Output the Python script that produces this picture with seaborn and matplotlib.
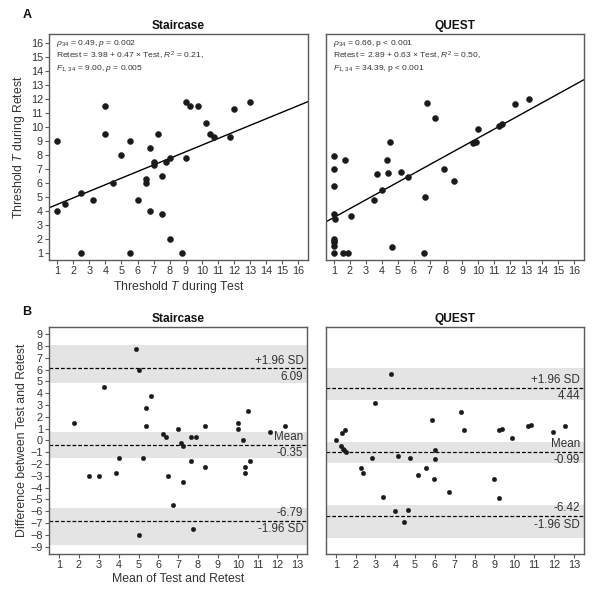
import numpy as np
import pandas as pd
import matplotlib
matplotlib.use("Agg")
import matplotlib.pyplot as plt
import seaborn as sns

# ---------------- data ----------------
stair_test = [1, 1, 1.5, 2.5, 2.5, 3.25, 4, 4, 4.5, 5, 5.5, 5.5, 6, 6.5, 6.5, 6.75, 6.75, 7,
              7, 7.25, 7.5, 7.5, 7.75, 8, 8, 8.75, 9, 9, 9.25, 9.75, 10.25, 10.5, 10.75,
              11.75, 12, 13]
stair_retest = [9, 4, 4.5, 5.25, 1, 4.75, 11.5, 9.5, 6, 8, 9, 1, 4.75, 6.25, 6, 8.5, 4, 7.5,
                7.25, 9.5, 6.5, 3.75, 7.5, 7.75, 2, 1, 11.75, 7.75, 11.5, 11.5, 10.25, 9.5, 9.25,
                9.25, 11.25, 11.75]

quest_test = [1, 1, 1, 1, 1, 1, 1.1, 1, 1, 1, 1.6, 1.9, 1.7, 2.1, 3.5, 3.7, 4, 4.3, 4.4, 4.5,
              4.6, 5.2, 5.6, 6.6, 6.7, 6.8, 7.3, 7.9, 8.5, 9.7, 9.9, 10, 11.3, 11.5, 12.3, 13.2]
quest_retest = [1, 1.5, 1.75, 1.85, 2.0, 3.75, 3.4, 5.75, 7, 7.9, 1, 1, 7.6, 3.6, 4.8, 6.6, 5.5,
                7.6, 6.7, 8.9, 1.4, 6.8, 6.4, 1, 5, 11.7, 10.6, 7, 6.1, 8.8, 8.9, 9.8, 10.05,
                10.2, 11.6, 11.95]

methods = ["Staircase", "QUEST"]
reg_intercept = [3.98, 2.89]
reg_slope = [0.47, 0.63]
stat_lines = [
    ["$\\rho_{34}$ = 0.49, $p$ = 0.002",
     "Retest = 3.98 + 0.47 × Test, $R^2$ = 0.21,",
     "$F_{1,\\,34}$ = 9.00, $p$ = 0.005"],
    ["$\\rho_{34}$ = 0.66, p < 0.001",
     "Retest = 2.89 + 0.63 × Test, $R^2$ = 0.50,",
     "$F_{1,\\,34}$ = 34.39, p < 0.001"],
]

# Bland-Altman limits: [upper, mean, lower]
ba_limits = [[6.09, -0.35, -6.79], [4.44, -0.99, -6.42]]
ba_limit_text = [["6.09", "-0.35", "-6.79"], ["4.44", "-0.99", "-6.42"]]
# confidence bands (low, high) for [upper, mean, lower]
ba_bands = [[(4.9, 8.07), (-1.5, 0.7), (-8.85, -5.7)],
            [(3.45, 6.15), (-1.95, -0.15), (-8.25, -5.5)]]

top_ticks = list(range(1, 17))
bot_xticks = list(range(1, 14))
bot_yticks = list(range(-9, 10))

# ---------------- style ----------------
sns.set_style("white")
plt.rcParams["font.family"] = ["Liberation Sans", "DejaVu Sans"]
plt.rcParams["mathtext.fontset"] = "custom"
plt.rcParams["mathtext.rm"] = "Liberation Sans"
plt.rcParams["mathtext.it"] = "Liberation Sans:italic"
plt.rcParams["mathtext.bf"] = "Liberation Sans:bold"

SPINE = "#5a5a5a"
TXT = "#333333"
PT = "#1a1a1a"

fig = plt.figure(figsize=(6, 6), dpi=100)
pos_top = [[0.082, 0.567, 0.431, 0.376], [0.543, 0.567, 0.430, 0.376]]
pos_bot = [[0.082, 0.077, 0.430, 0.378], [0.543, 0.077, 0.430, 0.378]]

tests = [stair_test, quest_test]
retests = [stair_retest, quest_retest]


def style_ax(ax, show_y):
    for s in ax.spines.values():
        s.set_color(SPINE)
        s.set_linewidth(1.0)
    ax.tick_params(axis="both", direction="out", length=3, width=0.8, color=SPINE,
                   labelsize=7.8, labelcolor=TXT, pad=1.5)
    ax.tick_params(axis="x", bottom=True)
    if show_y:
        ax.tick_params(axis="y", left=True)
    else:
        ax.tick_params(axis="y", left=False, labelleft=False)


for i, m in enumerate(methods):
    df = pd.DataFrame({"Test": tests[i], "Retest": retests[i]})
    # --- top: scatter + regression ---
    ax = fig.add_axes(pos_top[i])
    sns.scatterplot(data=df, x="Test", y="Retest", ax=ax, s=19, color=PT,
                    edgecolor=PT, linewidth=0.3, zorder=3)
    ax.axline((0, reg_intercept[i]), slope=reg_slope[i], color="black", lw=1.0, zorder=2)
    ax.set_xlim(0.5, 16.6)
    ax.set_ylim(0.5, 16.6)
    ax.set_xticks(top_ticks)
    ax.set_yticks(top_ticks)
    style_ax(ax, i == 0)
    ax.set_title(m, fontsize=8.6, fontweight="bold", color="#111111", pad=3.5)
    if i == 0:
        ax.set_xlabel("Threshold $T$ during Test", fontsize=8.8, color=TXT, labelpad=2)
        ax.set_ylabel("Threshold $T$ during Retest", fontsize=8.8, color=TXT, labelpad=3)
    else:
        ax.set_xlabel("")
        ax.set_ylabel("")
    ax.text(0.028, 0.985, "\n".join(stat_lines[i]), transform=ax.transAxes, ha="left",
            va="top", fontsize=6.1, color=TXT, linespacing=1.15)

    # --- bottom: Bland-Altman ---
    ba = pd.DataFrame({"Mean": (df["Test"] + df["Retest"]) / 2,
                       "Diff": df["Test"] - df["Retest"]})
    bx = fig.add_axes(pos_bot[i])
    for (lo, hi) in ba_bands[i]:
        bx.axhspan(lo, hi, color="#e4e4e4", lw=0, zorder=0)
    for v in ba_limits[i]:
        bx.axhline(v, color="black", lw=0.9, ls=(0, (3, 1.6)), zorder=1)
    sns.scatterplot(data=ba, x="Mean", y="Diff", ax=bx, s=11, color=PT,
                    edgecolor=PT, linewidth=0.2, zorder=3)
    bx.set_xlim(0.5, 13.5)
    bx.set_ylim(-9.6, 9.6)
    bx.set_xticks(bot_xticks)
    bx.set_yticks(bot_yticks)
    style_ax(bx, i == 0)
    bx.set_title(m, fontsize=8.6, fontweight="bold", color="#111111", pad=3.5)
    if i == 0:
        bx.set_xlabel("Mean of Test and Retest", fontsize=8.8, color=TXT, labelpad=2)
        bx.set_ylabel("Difference between Test and Retest", fontsize=8.8, color=TXT, labelpad=2)
    else:
        bx.set_xlabel("")
        bx.set_ylabel("")
    up, mn, lo = ba_limits[i]
    tu, tm, tl = ba_limit_text[i]
    kw = dict(ha="right", fontsize=8.4, color=TXT, transform=bx.get_yaxis_transform())
    bx.text(0.985, up + 0.15, "+1.96 SD", va="bottom", **kw)
    bx.text(0.985, up - 0.2, tu, va="top", **kw)
    bx.text(0.985, mn + 0.15, "Mean", va="bottom", **kw)
    bx.text(0.985, mn - 0.2, tm, va="top", **kw)
    bx.text(0.985, lo + 0.15, tl, va="bottom", **kw)
    bx.text(0.985, lo - 0.2, "-1.96 SD", va="top", **kw)

fig.text(0.045, 0.975, "A", fontsize=9, fontweight="bold", color="#111111", ha="center", va="center")
fig.text(0.045, 0.48, "B", fontsize=9, fontweight="bold", color="#111111", ha="center", va="center")

fig.savefig("out.png", dpi=100)
